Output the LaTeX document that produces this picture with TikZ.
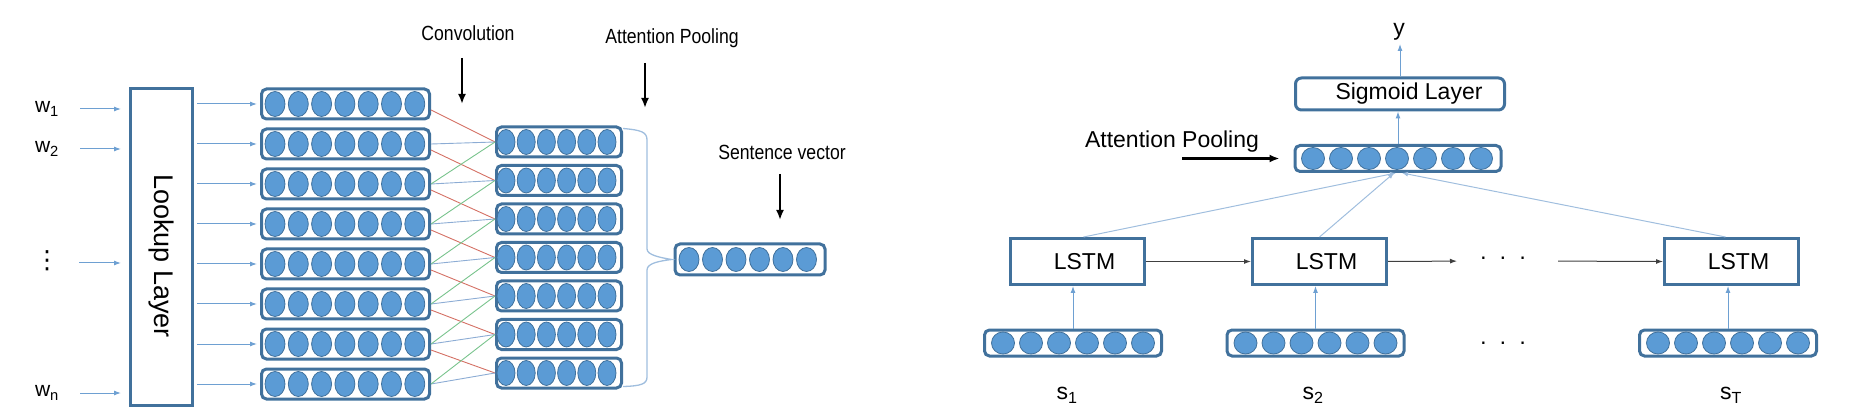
\documentclass[tikz,border=0pt]{standalone}
\usepackage{fontspec}
\setmainfont{Liberation Sans}
\newfontfamily\symbfont{DejaVu Sans}
\usepackage{tikz}
\usetikzlibrary{arrows.meta}

\definecolor{boxblue}{RGB}{65,113,156}
\definecolor{cellblue}{RGB}{91,155,213}
\definecolor{arrowblue}{RGB}{110,160,210}
\definecolor{lineblue}{RGB}{160,190,222}
\definecolor{convred}{RGB}{212,112,100}
\definecolor{convgreen}{RGB}{120,195,140}
\definecolor{convblue}{RGB}{140,172,212}

\begin{document}
\begin{tikzpicture}[x=1pt, y=-1pt,
    vec/.style={draw=boxblue, line width=3pt, rounded corners=5pt, inner sep=0pt},
    layer/.style={draw=boxblue, line width=3pt, inner sep=0pt, font=\fontsize{23}{27}\selectfont},
    cell/.style={draw=boxblue, line width=0.8pt, fill=cellblue},
    inarrow/.style={draw=arrowblue, line width=1pt, -{Latex[length=7pt,width=5pt]}},
    fanline/.style={draw=lineblue, line width=1pt, -{Latex[length=6pt,width=5pt]}},
    steparrow/.style={draw=black!75, line width=1pt, -{Latex[length=7pt,width=5pt]}},
    bigarrow/.style={line width=2.5pt, -{Latex[length=10pt,width=8pt]}},
    smalllabel/.style={font=\fontsize{20.5}{24}\selectfont},
    biglabel/.style={font=\fontsize{23}{27}\selectfont}]
    \useasboundingbox (0,0) rectangle (1859,419);

    % Words and lookup layer
    \node[draw=boxblue, line width=3pt, minimum width=62pt, minimum height=317pt] (lookup) at (161.5,247) {};
    \node[rotate=-90, font=\fontsize{27}{32}\selectfont] (lookuptext) at (161.5,256) {Lookup Layer};
    \node[font=\fontsize{21}{25}\selectfont] (w1) at (47,109) {w\textsubscript{1}};
    \node[font=\fontsize{21}{25}\selectfont] (w2) at (47,149) {w\textsubscript{2}};
    \node[font=\symbfont\fontsize{25}{30}\selectfont, inner sep=0pt] (wdots) at (47,261) {⋮};
    \node[font=\fontsize{21}{25}\selectfont] (wn) at (47,393) {w\textsubscript{n}};
    \foreach \w in {w1,w2,wn}
        \draw[inarrow, shorten <=18pt, shorten >=8pt] (\w.east) -- (\w.east -| lookup.west);
    \draw[inarrow, shorten <=32pt, shorten >=8pt] (wdots.center |- 0,263) -- (lookup.west |- 0,263);

    % Word vectors
    \foreach \k in {1,...,8} {
        \node[vec, minimum width=168pt, minimum height=30pt] (L\k) at (345.5,{104+40*(\k-1)}) {};
        \foreach \j in {0,...,6}
            \draw[cell] ({275+23.3*\j},{104+40*(\k-1)}) ellipse (10pt and 12.5pt);
        \draw[inarrow, shorten <=3pt, shorten >=3pt] (lookup.east |- L\k) -- (L\k.west);
    }

    % Convolution outputs
    \foreach \k in {1,...,7} {
        \node[vec, minimum width=125pt, minimum height=30pt] (R\k) at (559,{142+38.5*(\k-1)}) {};
        \foreach \j in {0,...,5}
            \draw[cell] ({506+20.2*\j},{142+38.5*(\k-1)}) ellipse (9pt and 12.5pt);
    }
    \foreach \k in {1,...,7}
        \draw[convred, line width=0.9pt] ([yshift=-6pt]L\k.east) -- (R\k.west);
    \foreach \k [evaluate=\k as \n using int(\k+1)] in {1,...,7}
        \draw[convblue, line width=0.9pt] (L\n.east) -- (R\k.west);
    \foreach \k [evaluate=\k as \n using int(\k+2)] in {1,...,6}
        \draw[convgreen, line width=0.9pt] (L\n.east) -- (R\k.west);

    % Pooling into sentence vector
    \node[vec, minimum width=150pt, minimum height=31pt] (sent) at (750,259.5) {};
    \foreach \j in {0,...,5}
        \draw[cell] ({689+23.5*\j},259.5) ellipse (10pt and 12pt);
    \draw[lineblue, line width=1.3pt] ([yshift=-3pt]R1.north east) .. controls (641,130) and (647,132) .. (647,140)
        -- (647,249) .. controls (647,255) and (660,257.5) .. ([xshift=-2pt]sent.west)
        .. controls (660,261) and (647,263) .. (647,270)
        -- (647,377) .. controls (647,384) and (641,386) .. ([yshift=3pt]R7.south east);

    % Labels on the left
    \node[smalllabel] (convlabel) at (468,33) {\scalebox{0.86}[1]{Convolution}};
    \coordinate (convtop) at (462,58);
    \coordinate (convtip) at (462,104);
    \draw[bigarrow] (convtop) -- (convtip);
    \node[smalllabel] (poollabel) at (672,38) {\scalebox{0.86}[1]{Attention Pooling}};
    \coordinate (pooltop) at (645,63);
    \coordinate (pooltip) at (645,108);
    \draw[bigarrow] (pooltop) -- (pooltip);
    \node[smalllabel] (sentlabel) at (782,152) {\scalebox{0.86}[1]{Sentence vector}};
    \coordinate (senttop) at (780,174);
    \coordinate (senttip) at (780,220);
    \draw[bigarrow] (senttop) -- (senttip);

    % Sentence level LSTM
    \node[layer, minimum width=134pt, minimum height=46pt] (lstm1) at (1077.5,261.5) {\hspace{14pt}LSTM};
    \node[layer, minimum width=134pt, minimum height=46pt] (lstm2) at (1319.5,261.5) {\hspace{14pt}LSTM};
    \node[layer, minimum width=134pt, minimum height=46pt] (lstm3) at (1731.5,261.5) {\hspace{14pt}LSTM};
    \node[biglabel] (hdots) at (1503,261) {·\hspace{12pt}·\hspace{12pt}·};
    \node[biglabel] (vdots) at (1503,346) {·\hspace{12pt}·\hspace{12pt}·};
    \draw[steparrow] (lstm1.east) -- (lstm2.west);
    \draw[steparrow, shorten >=19pt] (lstm2.east) -- (hdots.west);
    \draw[steparrow, shorten <=28pt] (hdots.east) -- (lstm3.west);

    % Sentence vectors
    \foreach \s/\x in {1/1073,2/1315.5,3/1728} {
        \node[vec, minimum width=177pt, minimum height=26pt] (sv\s) at (\x,343) {};
        \foreach \j in {-70,-42,-14,14,42,70}
            \draw[cell] ({\x+\j},343) ellipse (11.5pt and 11pt);
        \draw[inarrow] (sv\s.north) -- (sv\s.north |- lstm\s.south);
    }
    \node[biglabel] (s1) at (1067,395) {s\textsubscript{1}};
    \node[biglabel] (s2) at (1313,395) {s\textsubscript{2}};
    \node[biglabel] (sT) at (1731,395) {s\textsubscript{T}};

    % Attention pooling and output
    \node[vec, minimum width=206pt, minimum height=26pt] (att) at (1398,158.5) {};
    \foreach \j in {0,...,6}
        \draw[cell] ({1313+28*\j},158.5) ellipse (11.5pt and 11pt);
    \draw[fanline] ([xshift=6pt]lstm1.north) -- ([xshift=-2pt]att.south);
    \draw[fanline] (lstm2.north) -- ([xshift=-4pt]att.south);
    \draw[fanline] ([xshift=-6pt]lstm3.north) -- ([xshift=4pt]att.south);
    \node[vec, layer, rounded corners=6pt, minimum width=209pt, minimum height=32pt] (sig) at (1400,94) {\hspace{18pt}Sigmoid Layer};
    \node[biglabel] (ylab) at (1399,32) {y};
    \draw[inarrow] (att.north) -- (att.north |- sig.south);
    \draw[inarrow] (sig.north) -- (sig.north |- ylab.south);
    \node[biglabel] (attlabel) at (1172,142) {Attention Pooling};
    \coordinate (attfrom) at (1182,158.5);
    \draw[bigarrow] (attfrom) -- ([xshift=-14pt]att.west);
\end{tikzpicture}
\end{document}
